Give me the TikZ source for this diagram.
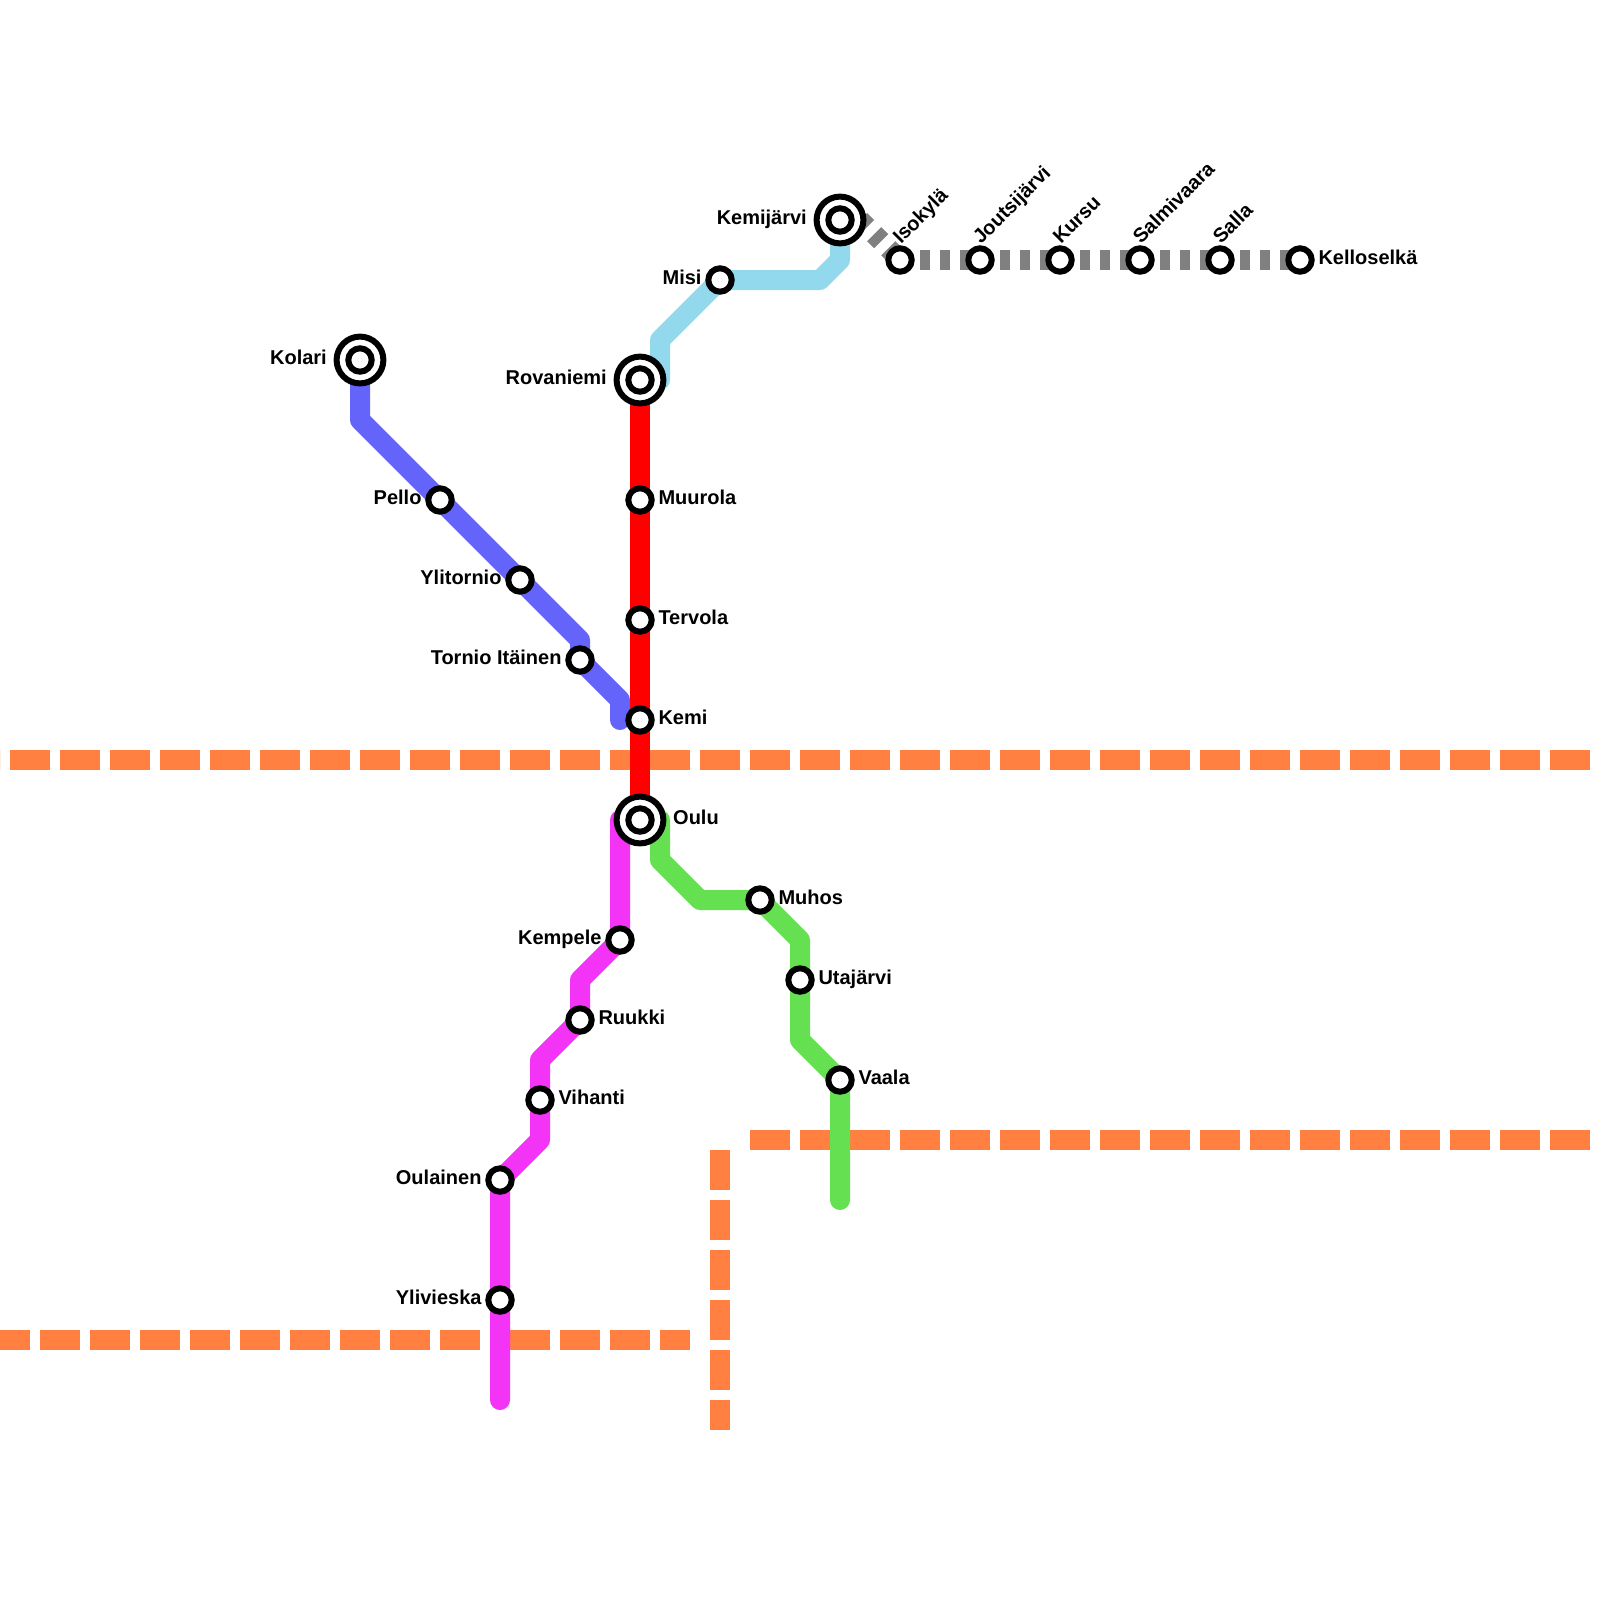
\documentclass[tikz,border=0pt]{standalone}
\usepackage{fontspec}
\setmainfont{Liberation Sans}
\usetikzlibrary{backgrounds, positioning}
\definecolor{borderorange}{RGB}{255,128,64}
\definecolor{kolariblue}{RGB}{100,100,250}
\definecolor{kemijarviblue}{RGB}{147,217,238}
\definecolor{vaalagreen}{RGB}{100,224,80}
\definecolor{ouluviolet}{RGB}{243,51,245}
\tikzset{
    stop/.style={
        circle,
        draw=black,
        fill=white,
        line width=3pt,
        minimum size=11.7pt,
        inner sep=0pt
    },
    bigstop/.style={
        stop,
        minimum size=23.4pt
    },
    stoplabel/.style={
        font=\bfseries\fontsize{10pt}{12pt}\selectfont,
        inner sep=0pt,
        text height=7.2pt,
        text depth=2.7pt
    },
    slantlabel/.style={
        stoplabel,
        rotate=45,
        anchor=base west,
        xshift=5.5pt,
        yshift=5pt
    },
    border/.style={
        draw=borderorange,
        line width=10pt,
        dash pattern=on 20pt off 5pt
    },
    trackline/.style={
        line width=10pt,
        line cap=round,
        line join=round
    },
    sallaline/.style={
        draw=gray,
        line width=10pt,
        dash pattern=on 5pt off 5pt
    }
}
\begin{document}
\begin{tikzpicture}[x=0.5pt, y=-0.5pt, node distance=1.7pt]
    \useasboundingbox (0,0) rectangle (1600,1600);

    % interchange stations
    \node[bigstop] (kolari) at (360,360) {};
    \node[stop] (kolaricore) at (kolari) {};
    \node[bigstop] (rovaniemi) at (640,380) {};
    \node[stop] (rovaniemicore) at (rovaniemi) {};
    \node[bigstop] (kemijarvi) at (840,220) {};
    \node[stop] (kemijarvicore) at (kemijarvi) {};
    \node[bigstop] (oulu) at (640,820) {};
    \node[stop] (oulucore) at (oulu) {};

    % plain stations
    \node[stop] (pello) at (440,500) {};
    \node[stop] (ylitornio) at (520,580) {};
    \node[stop] (tornio) at (580,660) {};
    \node[stop] (muurola) at (640,500) {};
    \node[stop] (tervola) at (640,620) {};
    \node[stop] (kemi) at (640,720) {};
    \node[stop] (misi) at (720,280) {};
    \node[stop] (isokyla) at (900,260) {};
    \node[stop] (joutsijarvi) at (980,260) {};
    \node[stop] (kursu) at (1060,260) {};
    \node[stop] (salmivaara) at (1140,260) {};
    \node[stop] (salla) at (1220,260) {};
    \node[stop] (kelloselka) at (1300,260) {};
    \node[stop] (muhos) at (760,900) {};
    \node[stop] (utajarvi) at (800,980) {};
    \node[stop] (vaala) at (840,1080) {};
    \node[stop] (kempele) at (620,940) {};
    \node[stop] (ruukki) at (580,1020) {};
    \node[stop] (vihanti) at (540,1100) {};
    \node[stop] (oulainen) at (500,1180) {};
    \node[stop] (ylivieska) at (500,1300) {};

    % labels
    \node[stoplabel, left=3.2pt of kolari] (kolarilabel) {Kolari};
    \node[stoplabel, left=3.2pt of rovaniemi] (rovaniemilabel) {Rovaniemi};
    \node[stoplabel, left=3.2pt of kemijarvi] (kemijarvilabel) {Kemijärvi};
    \node[stoplabel, right=3.2pt of oulu] (oululabel) {Oulu};
    \node[stoplabel, left=of pello] (pellolabel) {Pello};
    \node[stoplabel, left=of ylitornio] (ylitorniolabel) {Ylitornio};
    \node[stoplabel, left=of tornio] (torniolabel) {Tornio Itäinen};
    \node[stoplabel, right=of muurola] (muurolalabel) {Muurola};
    \node[stoplabel, right=of tervola] (tervolalabel) {Tervola};
    \node[stoplabel, right=of kemi] (kemilabel) {Kemi};
    \node[stoplabel, left=of misi] (misilabel) {Misi};
    \node[slantlabel] (isokylalabel) at (isokyla) {Isokylä};
    \node[slantlabel] (joutsijarvilabel) at (joutsijarvi) {Joutsijärvi};
    \node[slantlabel] (kursulabel) at (kursu) {Kursu};
    \node[slantlabel] (salmivaaralabel) at (salmivaara) {Salmivaara};
    \node[slantlabel] (sallalabel) at (salla) {Salla};
    \node[stoplabel, right=of kelloselka] (kelloselkalabel) {Kelloselkä};
    \node[stoplabel, right=of muhos] (muhoslabel) {Muhos};
    \node[stoplabel, right=of utajarvi] (utajarvilabel) {Utajärvi};
    \node[stoplabel, right=of vaala] (vaalalabel) {Vaala};
    \node[stoplabel, left=of kempele] (kempelelabel) {Kempele};
    \node[stoplabel, right=of ruukki] (ruukkilabel) {Ruukki};
    \node[stoplabel, right=of vihanti] (vihantilabel) {Vihanti};
    \node[stoplabel, left=of oulainen] (oulainenlabel) {Oulainen};
    \node[stoplabel, left=of ylivieska] (ylivieskalabel) {Ylivieska};

    % free ends and bends
    \coordinate (bordermid) at (650,760);
    \coordinate (borderwest) at (0,760);
    \coordinate (bordereast) at (1600,760);
    \coordinate (lowerstart) at (750,1140);
    \coordinate (lowereast) at (1600,1140);
    \coordinate (uprighttop) at (720,1150);
    \coordinate (uprightend) at (720,1430);
    \coordinate (southleftstart) at (480,1340);
    \coordinate (southleftend) at (0,1340);
    \coordinate (southrightstart) at (510,1340);
    \coordinate (southrightend) at (690,1340);
    \coordinate (kolaribend) at (360,420);
    \coordinate (torniobend) at (580,640);
    \coordinate (kemibend) at (620,700);
    \coordinate (kolariend) at (620,720);
    \coordinate (rovaniemistart) at (660,380);
    \coordinate (rovaniemibend) at (660,340);
    \coordinate (misibend) at (820,280);
    \coordinate (kemijarvibend) at (840,260);
    \coordinate (sallastart) at (860,220);
    \coordinate (oulugreen) at (660,820);
    \coordinate (greenbenda) at (660,860);
    \coordinate (greenbendb) at (700,900);
    \coordinate (greenbendc) at (800,940);
    \coordinate (greenbendd) at (800,1040);
    \coordinate (vaalaend) at (840,1200);
    \coordinate (ouluviolet) at (620,820);
    \coordinate (violetbenda) at (580,980);
    \coordinate (violetbendb) at (540,1060);
    \coordinate (violetbendc) at (540,1140);
    \coordinate (ylivieskaend) at (500,1400);

    \begin{scope}[on background layer]
        \draw[border] (bordermid) -- (borderwest);
        \draw[border] (bordermid) -- (bordereast);
        \draw[border] (lowerstart) -- (lowereast);
        \draw[border] (uprighttop) -- (uprightend);
        \draw[border] (southleftstart) -- (southleftend);
        \draw[border] (southrightstart) -- (southrightend);

        \draw[trackline, draw=red] (rovaniemi.center) -- (muurola.center) -- (tervola.center) -- (kemi.center) -- (oulu.center);
        \draw[trackline, draw=kolariblue] (kolari.center) -- (kolaribend) -- (pello.center) -- (ylitornio.center) -- (torniobend) -- (tornio.center) -- (kemibend) -- (kolariend);
        \draw[trackline, draw=kemijarviblue] (rovaniemistart) -- (rovaniemibend) -- (misi.center) -- (misibend) -- (kemijarvibend) -- (kemijarvi.center);
        \draw[trackline, draw=vaalagreen] (oulugreen) -- (greenbenda) -- (greenbendb) -- (muhos.center) -- (greenbendc) -- (utajarvi.center) -- (greenbendd) -- (vaala.center) -- (vaalaend);
        \draw[trackline, draw=ouluviolet] (ouluviolet) -- (kempele.center) -- (violetbenda) -- (ruukki.center) -- (violetbendb) -- (vihanti.center) -- (violetbendc) -- (oulainen.center) -- (ylivieska.center) -- (ylivieskaend);

        \draw[sallaline] (sallastart) -- (isokyla.center);
        \draw[sallaline] (isokyla.center) -- (joutsijarvi.center) -- (kursu.center) -- (salmivaara.center) -- (salla.center) -- (kelloselka.center);
    \end{scope}
\end{tikzpicture}
\end{document}
